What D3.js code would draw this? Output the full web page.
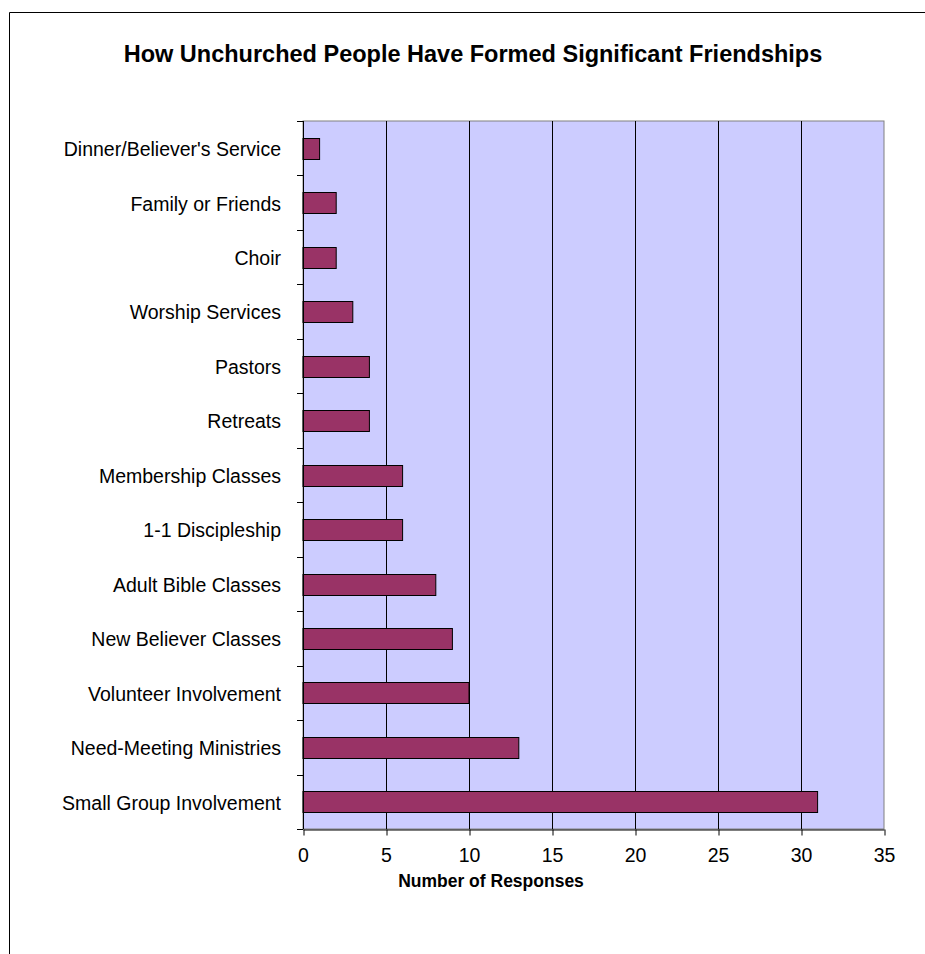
<!DOCTYPE html>
<html lang="en">
<head>
<meta charset="UTF-8">
<title>How Unchurched People Have Formed Significant Friendships</title>
<script src="https://cdnjs.cloudflare.com/ajax/libs/d3/7.8.5/d3.min.js"></script>
<style>
    body { margin: 0; background: #fff; font-family: "Liberation Sans", Arial, sans-serif; }
    svg { display: block; }
    .cat-axis text, .val-axis text { font-size: 19.5px; fill: #000; font-family: "Liberation Sans", Arial, sans-serif; }
    .cat-axis path, .cat-axis line, .val-axis path, .val-axis line { stroke: #000; }
</style>
</head>
<body>
<svg id="chart" width="925" height="954"></svg>
<script>
const categories = [
    "Dinner/Believer's Service", "Family or Friends", "Choir", "Worship Services",
    "Pastors", "Retreats", "Membership Classes", "1-1 Discipleship",
    "Adult Bible Classes", "New Believer Classes", "Volunteer Involvement",
    "Need-Meeting Ministries", "Small Group Involvement"
];
const responses = [1, 2, 2, 3, 4, 4, 6, 6, 8, 9, 10, 13, 31];
const xTicks = [0, 5, 10, 15, 20, 25, 30, 35];

const svg = d3.select("#chart");
const margin = { left: 303, top: 121, right: 884, bottom: 829 };

// outer frame: top and left edges only
svg.append("line").attr("x1", 9.5).attr("x2", 925).attr("y1", 12.5).attr("y2", 12.5)
    .attr("stroke", "#000").attr("stroke-width", 1);
svg.append("line").attr("x1", 9.5).attr("x2", 9.5).attr("y1", 12.5).attr("y2", 954)
    .attr("stroke", "#000").attr("stroke-width", 1);

svg.append("text")
    .attr("x", 473).attr("y", 62)
    .attr("text-anchor", "middle")
    .style("font-size", "23.5px").style("font-weight", "bold")
    .text("How Unchurched People Have Formed Significant Friendships");

const x = d3.scaleLinear().domain([0, 35]).range([margin.left, margin.right]);
const y = d3.scaleBand().domain(categories).range([margin.top, margin.bottom]).paddingInner(0.62).paddingOuter(0.31);

// plot background
svg.append("rect")
    .attr("x", margin.left).attr("y", margin.top)
    .attr("width", margin.right - margin.left).attr("height", margin.bottom - margin.top)
    .attr("fill", "#ccccff").attr("stroke", "#808080");

// vertical gridlines
svg.append("g").selectAll("line")
    .data(xTicks.slice(1, -1))
    .join("line")
    .attr("x1", d => Math.round(x(d)) + 0.5).attr("x2", d => Math.round(x(d)) + 0.5)
    .attr("y1", margin.top).attr("y2", margin.bottom)
    .attr("stroke", "#000");

svg.append("g").selectAll("rect")
    .data(categories)
    .join("rect")
    .attr("x", x(0))
    .attr("y", d => Math.round(y(d)) + 0.5)
    .attr("width", (d, i) => x(responses[i]) - x(0))
    .attr("height", Math.round(y.bandwidth()))
    .attr("fill", "#993366")
    .attr("stroke", "#000");

// category axis with ticks between categories
const catAxis = svg.append("g").attr("class", "cat-axis");
catAxis.append("line")
    .attr("x1", margin.left + 0.5).attr("x2", margin.left + 0.5)
    .attr("y1", margin.top).attr("y2", margin.bottom);
catAxis.selectAll("line.tk")
    .data(d3.range(categories.length + 1))
    .join("line").attr("class", "tk")
    .attr("x1", margin.left - 6).attr("x2", margin.left)
    .attr("y1", i => Math.round(margin.top + i * (margin.bottom - margin.top) / categories.length) + 0.5)
    .attr("y2", i => Math.round(margin.top + i * (margin.bottom - margin.top) / categories.length) + 0.5);
catAxis.selectAll("text")
    .data(categories)
    .join("text")
    .attr("x", margin.left - 22)
    .attr("y", d => y(d) + y.bandwidth() / 2 + 1)
    .attr("dy", "0.35em")
    .attr("text-anchor", "end")
    .text(d => d);

const valAxis = svg.append("g")
    .attr("class", "val-axis")
    .attr("transform", `translate(0,${margin.bottom + 0.5})`)
    .call(d3.axisBottom(x).tickValues(xTicks).tickSize(6).tickSizeOuter(0).tickPadding(13));
valAxis.selectAll(".tick line").attr("transform", "translate(0.5,0)");

svg.append("text")
    .attr("x", 491).attr("y", 887)
    .attr("text-anchor", "middle")
    .style("font-size", "17.5px").style("font-weight", "bold")
    .text("Number of Responses");
</script>
</body>
</html>
